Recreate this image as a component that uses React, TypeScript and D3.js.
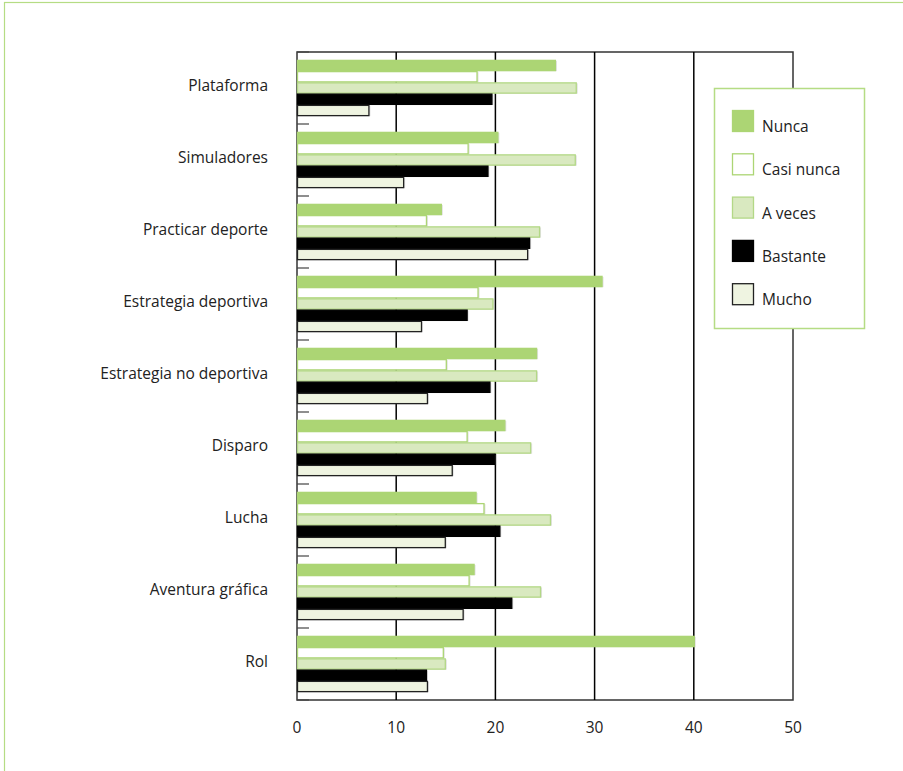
import React, { useRef, useEffect } from 'react';
import * as d3 from 'd3';

const categories = [
  'Plataforma',
  'Simuladores',
  'Practicar deporte',
  'Estrategia deportiva',
  'Estrategia no deportiva',
  'Disparo',
  'Lucha',
  'Aventura gráfica',
  'Rol',
];

const seriesNames = ['Nunca', 'Casi nunca', 'A veces', 'Bastante', 'Mucho'];

const nunca = [26.1, 20.3, 14.6, 30.8, 24.2, 21.0, 18.1, 17.9, 40.1];
const casiNunca = [18.2, 17.3, 13.1, 18.3, 15.1, 17.2, 18.9, 17.4, 14.8];
const aVeces = [28.2, 28.1, 24.5, 19.8, 24.2, 23.6, 25.6, 24.6, 15.0];
const bastante = [19.7, 19.3, 23.5, 17.2, 19.5, 20.0, 20.5, 21.7, 13.1];
const mucho = [7.3, 10.8, 23.3, 12.6, 13.2, 15.7, 15.0, 16.8, 13.2];

const xTicks = [0, 10, 20, 30, 40, 50];

const fills = ['#acd574', '#ffffff', '#d9e9c0', '#000000', '#eff4e1'];
const strokes = ['#acd574', '#acd574', '#b3d886', '#000000', '#222222'];

const FONT = "'Open Sans', sans-serif";

const App: React.FC = () => {
  const svgRef = useRef<SVGSVGElement>(null);
  const width = 903;
  const height = 771;

  useEffect(() => {
    if (!svgRef.current) return;
    const svg = d3.select(svgRef.current);
    svg.selectAll('*').remove();

    const series = [nunca, casiNunca, aVeces, bastante, mucho];
    const left = 297, right = 793, top = 52, bottom = 700;

    // outer frame
    svg.append('rect')
      .attr('x', 4.5).attr('y', 2.5)
      .attr('width', width + 10).attr('height', height + 10)
      .attr('fill', 'none').attr('stroke', '#b5dc84').attr('stroke-width', 1.2);

    const x = d3.scaleLinear().domain([0, 50]).range([left, right]);
    const y = d3.scaleBand<string>().domain(categories).range([top, bottom]).paddingInner(0).paddingOuter(0);
    const inner = d3.scaleBand<number>()
      .domain(d3.range(seriesNames.length))
      .range([0, y.bandwidth()])
      .paddingInner(0)
      .paddingOuter(0.7);

    // plot frame
    svg.append('rect')
      .attr('x', left).attr('y', top)
      .attr('width', right - left).attr('height', bottom - top)
      .attr('fill', 'none').attr('stroke', '#333').attr('stroke-width', 1.5);

    // gridlines
    svg.append('g').selectAll('line')
      .data(xTicks.slice(1, -1))
      .enter().append('line')
      .attr('x1', d => x(d)).attr('x2', d => x(d))
      .attr('y1', top).attr('y2', bottom)
      .attr('stroke', '#000').attr('stroke-width', 1.5);

    // category ticks
    svg.append('g').selectAll('line')
      .data(d3.range(categories.length + 1))
      .enter().append('line')
      .attr('x1', left).attr('x2', left + 12)
      .attr('y1', i => top + i * y.step()).attr('y2', i => top + i * y.step())
      .attr('stroke', '#444').attr('stroke-width', 1.2);

    // bars
    series.forEach((vals, si) => {
      const g = svg.append('g');
      // shadow
      g.selectAll('rect.sh')
        .data(vals)
        .enter().append('rect')
        .attr('class', 'sh')
        .attr('x', x(0) + 1)
        .attr('y', (d, i) => (y(categories[i]) || 0) + (inner(si) || 0) + 1)
        .attr('width', d => x(d) - x(0))
        .attr('height', inner.bandwidth() - 1)
        .attr('fill', '#aaa').attr('opacity', 0.35);
      g.selectAll('rect.bar')
        .data(vals)
        .enter().append('rect')
        .attr('class', 'bar')
        .attr('x', x(0) + 0.5)
        .attr('y', (d, i) => (y(categories[i]) || 0) + (inner(si) || 0) + 0.5)
        .attr('width', d => x(d) - x(0) - 1)
        .attr('height', inner.bandwidth() - 1)
        .attr('fill', fills[si])
        .attr('stroke', strokes[si])
        .attr('stroke-width', 1.3);
    });

    // category labels
    svg.append('g').selectAll('text')
      .data(categories)
      .enter().append('text')
      .attr('x', 268)
      .attr('y', d => (y(d) || 0) + y.bandwidth() / 2 - 2)
      .attr('dy', '0.35em')
      .attr('text-anchor', 'end')
      .attr('font-family', FONT).attr('font-size', 15.5)
      .attr('fill', '#222')
      .text(d => d);

    // x tick labels
    svg.append('g').selectAll('text')
      .data(xTicks)
      .enter().append('text')
      .attr('x', d => x(d))
      .attr('y', 728)
      .attr('dy', '0.35em')
      .attr('text-anchor', 'middle')
      .attr('font-family', FONT).attr('font-size', 15.5)
      .attr('fill', '#222')
      .text(d => d);

    // legend
    const lg = svg.append('g');
    lg.append('rect')
      .attr('x', 714.5).attr('y', 88.5)
      .attr('width', 150).attr('height', 240)
      .attr('fill', '#fff').attr('stroke', '#b5dc84').attr('stroke-width', 1.5);
    seriesNames.forEach((name, i) => {
      const yy = 110 + i * 43.3;
      lg.append('rect')
        .attr('x', 732.5).attr('y', yy + 0.5)
        .attr('width', 21).attr('height', 21)
        .attr('fill', fills[i]).attr('stroke', strokes[i]).attr('stroke-width', 1.3);
      lg.append('text')
        .attr('x', 762).attr('y', yy + 22)
        .attr('font-family', FONT).attr('font-size', 15.5)
        .attr('fill', '#222')
        .text(name);
    });
  }, []);

  return (
    <svg ref={svgRef} width={width} height={height} style={{ position: 'absolute', left: 0, top: 0, background: '#fff' }}></svg>
  );
};

export default App;
